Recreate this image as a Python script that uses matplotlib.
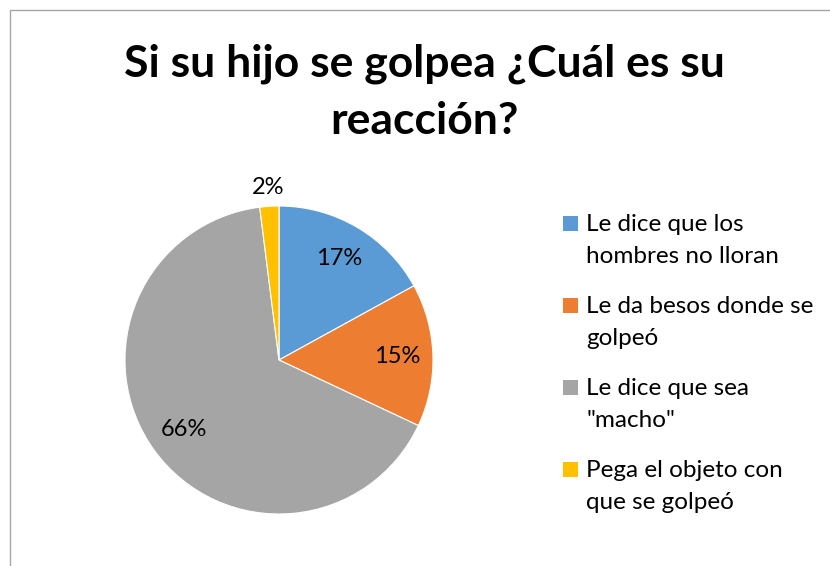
import matplotlib
matplotlib.use("Agg")
import matplotlib.pyplot as plt
from matplotlib.patches import Rectangle
import numpy as np

plt.rcParams['font.family'] = ['Lato', 'DejaVu Sans']

title_lines = ["Si su hijo se golpea ¿Cuál es su", "reacción?"]
categories = ["Le dice que los\nhombres no lloran",
              "Le da besos donde se\ngolpeó",
              "Le dice que sea\n\"macho\"",
              "Pega el objeto con\nque se golpeó"]
values = [17, 15, 66, 2]
colors = ["#5B9BD5", "#ED7D31", "#A5A5A5", "#FFC000"]

W, H = 830, 566
fig = plt.figure(figsize=(W / 100, H / 100), dpi=100)

# chart frame (cropped on right/bottom)
fig.patches.append(Rectangle((9.5 / W, -0.1), 1.2, (H - 9.5) / H + 0.1,
                             transform=fig.transFigure, fill=False,
                             edgecolor="#A6A6A6", linewidth=1.0))

cx, cy, r = 279, 360, 154
ax = fig.add_axes([(cx - r) / W, (H - cy - r) / H, 2 * r / W, 2 * r / H])
wedges, _ = ax.pie(values, colors=colors, startangle=90, counterclock=False,
                   radius=1.0, wedgeprops=dict(edgecolor="white", linewidth=0.8))
ax.set_xlim(-1, 1)
ax.set_ylim(-1, 1)
ax.set_aspect("equal")
ax.axis("off")

total = sum(values)
for w, v in zip(wedges, values):
    ang = np.deg2rad((w.theta1 + w.theta2) / 2)
    d = 1.12 if v / total < 0.05 else 0.765
    ax.text(d * np.cos(ang), d * np.sin(ang), f"{v / total * 100:.0f}%",
            ha="center", va="center", fontsize=17, color="#000000")

# title
fig.text(424 / W, 1 - 77 / H, title_lines[0], ha="center", va="baseline",
         fontsize=32, fontweight="bold", color="#000000")
fig.text(424 / W, 1 - 134 / H, title_lines[1], ha="center", va="baseline",
         fontsize=32, fontweight="bold", color="#000000")

# legend
base0 = 231
step = 82
for i, (lab, col) in enumerate(zip(categories, colors)):
    b = base0 + i * step
    fig.patches.append(Rectangle((563 / W, 1 - b / H), 15 / W, 15 / H,
                                 transform=fig.transFigure, facecolor=col,
                                 edgecolor="none"))
    for j, line in enumerate(lab.split("\n")):
        fig.text(586 / W, 1 - (b + 32 * j) / H, line, ha="left", va="baseline",
                 fontsize=17.5, color="#000000")

fig.savefig("out.png", dpi=100)
